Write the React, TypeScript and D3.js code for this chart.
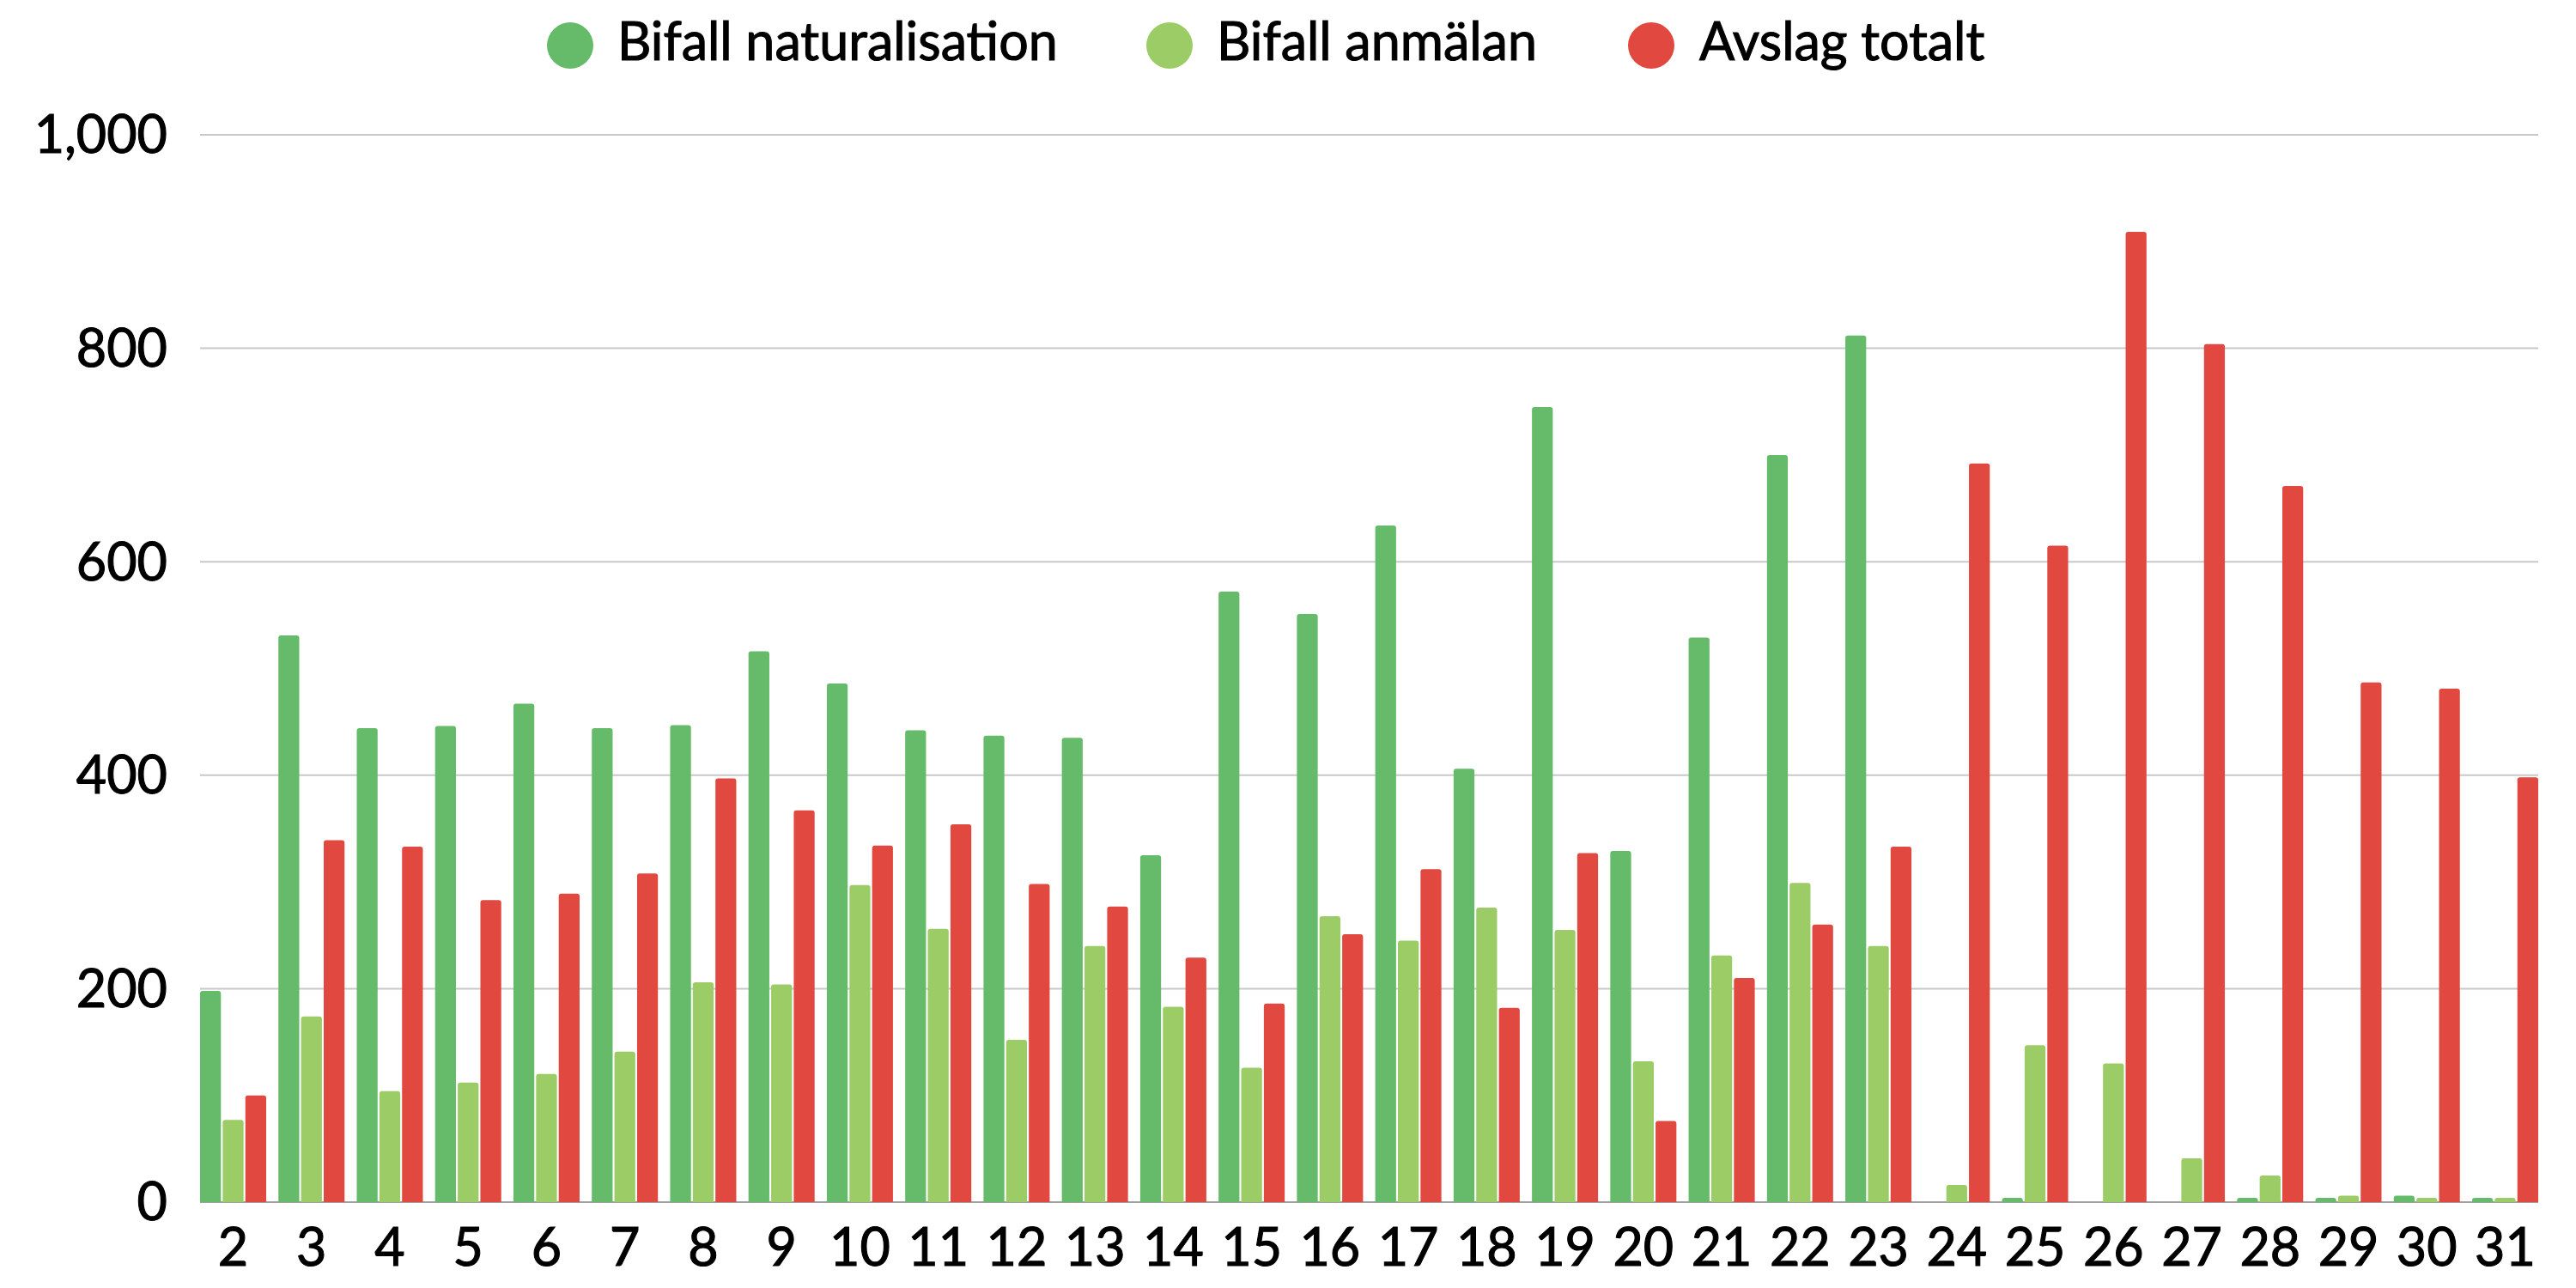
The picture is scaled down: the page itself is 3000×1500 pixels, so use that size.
import React from "react";
import * as d3 from "d3";

const categories = ["2","3","4","5","6","7","8","9","10","11","12","13","14","15","16","17","18","19","20","21","22","23","24","25","26","27","28","29","30","31"];
const naturalisation = [198, 531, 444, 446, 467, 444, 447, 516, 486, 442, 437, 435, 325, 572, 551, 634, 406, 745, 329, 529, 700, 812, 0, 4, 0, 0, 4, 4, 6, 4];
const anmalan = [77, 174, 104, 112, 120, 141, 206, 204, 297, 256, 152, 240, 183, 126, 268, 245, 276, 255, 132, 231, 299, 240, 16, 147, 130, 41, 25, 6, 4, 4];
const avslag = [100, 339, 333, 283, 289, 308, 397, 367, 334, 354, 298, 277, 229, 186, 251, 312, 182, 327, 76, 210, 260, 333, 692, 615, 909, 804, 671, 487, 481, 398];
const seriesNames = ["Bifall naturalisation", "Bifall anmälan", "Avslag totalt"];
const seriesColors = ["#66bb6a", "#9ccc65", "#e04840"];
const yTicks = [0, 200, 400, 600, 800, 1000];

const W = 3000;
const H = 1500;
const left = 233;
const right = 2956;
const bottom = 1400;
const top = 157;
const FONT = "Lato, 'Open Sans', sans-serif";

function topRoundedBar(x: number, y: number, w: number, h: number, r: number) {
  if (h <= 0) return "";
  const rr = Math.min(r, h, w / 2);
  return `M${x},${y + h}V${y + rr}Q${x},${y} ${x + rr},${y}H${x + w - rr}Q${x + w},${y} ${x + w},${y + rr}V${y + h}Z`;
}

export default function App() {
  const data = [naturalisation, anmalan, avslag];
  const x = d3.scaleBand<string>().domain(categories).range([left, right]).paddingInner(0.156).paddingOuter(0);
  const xs = d3.scaleBand<number>().domain([0, 1, 2]).range([0, x.bandwidth()]).paddingInner(0.08).paddingOuter(0);
  const y = d3.scaleLinear().domain([0, 1000]).range([bottom, top]);
  const fmt = d3.format(",");

  const legendItems = [
    { cx: 664, tx: 719 },
    { cx: 1362, tx: 1417 },
    { cx: 1923, tx: 1979 },
  ];
  const textProps = { fill: "#000", stroke: "#000", strokeWidth: 1.1 };

  return (
    <svg width={W} height={H} style={{ position: "absolute", left: 0, top: 0, background: "#fff" }} fontFamily={FONT}>
      {yTicks.map((t) => (
        <line key={t} x1={left} x2={right} y1={y(t)} y2={y(t)} stroke={t === 0 ? "#a0a0a0" : "#c8c8c8"} strokeWidth={2} />
      ))}
      {categories.map((c, i) => (
        <g key={c} transform={`translate(${x(c)},0)`}>
          {data.map((s, k) => (
            <path
              key={k}
              d={topRoundedBar(xs(k) as number, y(s[i]), xs.bandwidth(), y(0) - y(s[i]), 3)}
              fill={seriesColors[k]}
            />
          ))}
        </g>
      ))}
      {yTicks.map((t) => (
        <text key={t} x={195} y={y(t)} dy="0.35em" textAnchor="end" fontSize={61} {...textProps}>
          {fmt(t)}
        </text>
      ))}
      {categories.map((c) => (
        <text key={c} x={(x(c) as number) + x.bandwidth() / 2} y={1474} textAnchor="middle" fontSize={61} {...textProps}>
          {c}
        </text>
      ))}
      {seriesNames.map((n, k) => (
        <g key={n}>
          <circle cx={legendItems[k].cx} cy={53} r={27} fill={seriesColors[k]} />
          <text x={legendItems[k].tx} y={70} fontSize={61} {...textProps}>
            {n}
          </text>
        </g>
      ))}
    </svg>
  );
}
